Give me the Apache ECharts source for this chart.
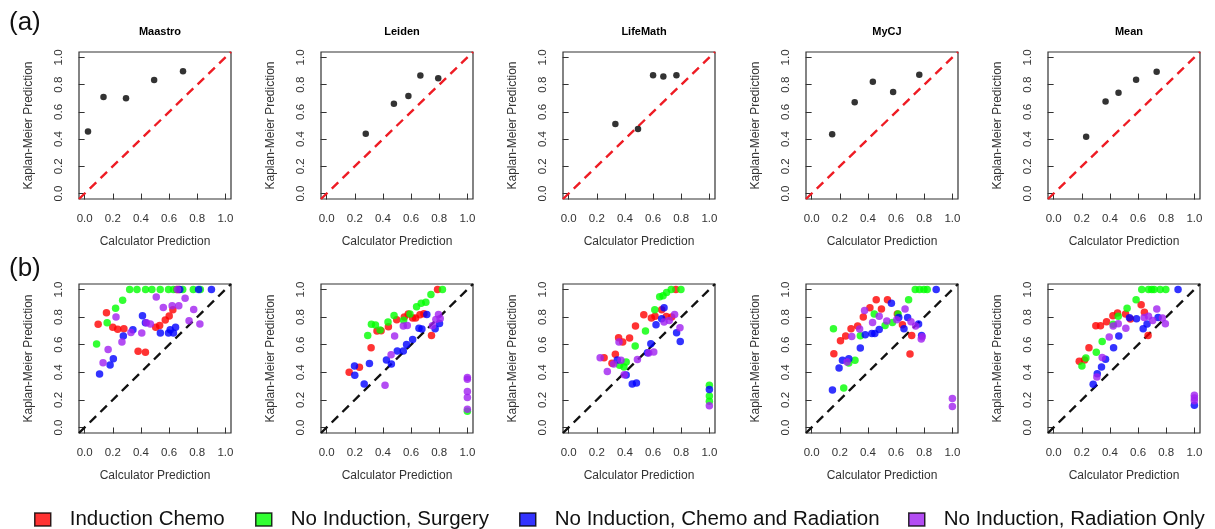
<!DOCTYPE html>
<html>
<head>
<meta charset="utf-8">
<script src="https://cdn.jsdelivr.net/npm/echarts@6/dist/echarts.min.js"></script>
<style>
  html, body { margin: 0; padding: 0; background: #fff; }
  #chart { width: 1215px; height: 529px; }
</style>
</head>
<body>
<div id="chart"></div>
<script>
  // calculators / treatment groups
  const centers = ['Maastro', 'Leiden', 'LifeMath', 'MyCJ', 'Mean']
  const groups = ['Induction Chemo', 'No Induction, Surgery', 'No Induction, Chemo and Radiation', 'No Induction, Radiation Only']
  const groupColors = ['#ff0000', '#00ff00', '#0000ff', '#a020f0']
  const ticks = [0, 0.2, 0.4, 0.6, 0.8, 1.0]
  const diagonal = [-0.04, 1.04]

  // (a) calibration by quintile: [calculator, kaplan-meier]
  const maastroA = [[0.024, 0.456], [0.134, 0.709], [0.294, 0.701], [0.494, 0.835], [0.699, 0.898]]
  const leidenA = [[0.278, 0.439], [0.478, 0.660], [0.581, 0.716], [0.666, 0.867], [0.793, 0.848]]
  const lifemathA = [[0.332, 0.511], [0.493, 0.475], [0.600, 0.870], [0.673, 0.860], [0.766, 0.870]]
  const mycjA = [[0.146, 0.436], [0.306, 0.670], [0.435, 0.822], [0.579, 0.747], [0.765, 0.872]]
  const meanA = [[0.231, 0.417], [0.369, 0.677], [0.461, 0.740], [0.586, 0.836], [0.732, 0.894]]

  // (b) by treatment group
  const maastroChemo = [[0.096, 0.748], [0.155, 0.832], [0.200, 0.726], [0.235, 0.712], [0.279, 0.716], [0.380, 0.553], [0.432, 0.546], [0.505, 0.726], [0.533, 0.740], [0.573, 0.779], [0.601, 0.808], [0.627, 0.853], [0.653, 1.0], [0.668, 1.0]]
  const maastroSurgery = [[0.085, 0.606], [0.160, 0.760], [0.220, 0.865], [0.270, 0.923], [0.320, 1.0], [0.372, 1.0], [0.433, 1.0], [0.478, 1.0], [0.537, 1.0], [0.596, 1.0], [0.631, 1.0], [0.697, 1.0], [0.772, 1.0], [0.822, 1.0]]
  const maastroChemoRad = [[0.106, 0.387], [0.181, 0.452], [0.204, 0.498], [0.275, 0.663], [0.343, 0.709], [0.411, 0.810], [0.432, 0.760], [0.538, 0.685], [0.596, 0.685], [0.608, 0.709], [0.631, 0.685], [0.646, 0.726], [0.676, 1.0], [0.810, 1.0], [0.901, 1.0]]
  const maastroRadOnly = [[0.131, 0.469], [0.167, 0.565], [0.223, 0.800], [0.265, 0.620], [0.329, 0.688], [0.406, 0.685], [0.439, 0.760], [0.467, 0.750], [0.509, 0.945], [0.559, 0.870], [0.622, 0.882], [0.669, 0.882], [0.714, 0.937], [0.742, 0.774], [0.775, 0.856], [0.819, 0.750], [0.660, 1.0]]

  const leidenChemo = [[0.160, 0.400], [0.233, 0.436], [0.316, 0.578], [0.358, 0.699], [0.387, 0.701], [0.439, 0.730], [0.498, 0.781], [0.552, 0.800], [0.580, 0.822], [0.611, 0.793], [0.632, 0.793], [0.663, 0.817], [0.691, 0.824], [0.745, 0.667], [0.788, 1.0]]
  const leidenSurgery = [[0.292, 0.667], [0.318, 0.749], [0.347, 0.742], [0.380, 0.706], [0.436, 0.764], [0.479, 0.812], [0.547, 0.778], [0.592, 0.822], [0.639, 0.875], [0.672, 0.901], [0.705, 0.908], [0.741, 0.964], [0.823, 1.0], [1.0, 0.118]]
  const leidenChemoRad = [[0.200, 0.378], [0.198, 0.446], [0.267, 0.316], [0.304, 0.463], [0.425, 0.489], [0.460, 0.460], [0.502, 0.554], [0.545, 0.554], [0.568, 0.602], [0.611, 0.638], [0.656, 0.720], [0.677, 0.713], [0.712, 0.819], [0.771, 0.715], [0.802, 0.754]]
  const leidenRadOnly = [[0.415, 0.306], [0.458, 0.528], [0.483, 0.663], [0.545, 0.735], [0.573, 0.740], [0.752, 0.737], [0.776, 0.783], [0.795, 0.819], [0.807, 0.790], [1.0, 0.362], [1.0, 0.350], [1.0, 0.260], [1.0, 0.217], [1.0, 0.133]]

  const lifemathChemo = [[0.252, 0.506], [0.308, 0.465], [0.332, 0.530], [0.355, 0.651], [0.384, 0.619], [0.433, 0.648], [0.475, 0.735], [0.534, 0.817], [0.588, 0.793], [0.614, 0.807], [0.661, 0.853], [0.694, 0.805], [0.732, 0.800], [0.762, 1.0]]
  const lifemathSurgery = [[0.362, 0.451], [0.393, 0.439], [0.409, 0.475], [0.473, 0.590], [0.546, 0.699], [0.612, 0.853], [0.647, 0.947], [0.671, 0.954], [0.696, 0.978], [0.729, 1.0], [0.798, 1.0], [1.0, 0.306], [1.0, 0.229], [1.0, 0.190]]
  const lifemathChemoRad = [[0.346, 0.489], [0.409, 0.381], [0.452, 0.316], [0.482, 0.323], [0.560, 0.542], [0.584, 0.607], [0.621, 0.745], [0.661, 0.788], [0.678, 0.867], [0.767, 0.687], [0.793, 0.624], [1.0, 0.275]]
  const lifemathRadOnly = [[0.224, 0.506], [0.275, 0.405], [0.320, 0.460], [0.358, 0.619], [0.372, 0.487], [0.395, 0.383], [0.489, 0.492], [0.569, 0.540], [0.605, 0.547], [0.678, 0.764], [0.715, 0.776], [0.753, 0.819], [0.791, 0.723], [1.0, 0.157]]

  const mycjChemo = [[0.158, 0.535], [0.205, 0.629], [0.242, 0.663], [0.280, 0.716], [0.327, 0.735], [0.367, 0.800], [0.414, 0.867], [0.459, 0.925], [0.496, 0.858], [0.539, 0.925], [0.609, 0.822], [0.645, 0.745], [0.711, 0.667], [0.699, 0.533]]
  const mycjSurgery = [[0.155, 0.716], [0.228, 0.287], [0.264, 0.467], [0.308, 0.487], [0.346, 0.665], [0.445, 0.822], [0.522, 0.740], [0.574, 0.761], [0.614, 0.822], [0.689, 0.925], [0.736, 1.0], [0.767, 1.0], [0.798, 1.0], [0.821, 1.0]]
  const mycjChemoRad = [[0.148, 0.272], [0.195, 0.431], [0.219, 0.487], [0.264, 0.499], [0.346, 0.576], [0.381, 0.672], [0.428, 0.682], [0.449, 0.682], [0.480, 0.711], [0.567, 0.901], [0.619, 0.798], [0.656, 0.716], [0.682, 0.798], [0.760, 0.750], [0.781, 0.667], [0.885, 1.0]]
  const mycjRadOnly = [[0.252, 0.475], [0.285, 0.660], [0.341, 0.713], [0.376, 0.848], [0.433, 0.761], [0.480, 0.807], [0.534, 0.771], [0.605, 0.781], [0.664, 0.858], [0.706, 0.766], [0.739, 0.735], [0.779, 0.641], [0.786, 0.658], [1.0, 0.210], [1.0, 0.152]]

  const meanChemo = [[0.182, 0.480], [0.220, 0.489], [0.251, 0.578], [0.300, 0.737], [0.333, 0.737], [0.376, 0.766], [0.421, 0.810], [0.454, 0.829], [0.511, 0.822], [0.546, 0.786], [0.622, 0.889], [0.645, 0.836], [0.671, 0.667]]
  const meanSurgery = [[0.201, 0.446], [0.229, 0.504], [0.303, 0.545], [0.345, 0.624], [0.423, 0.749], [0.459, 0.807], [0.522, 0.865], [0.586, 0.925], [0.626, 1.0], [0.674, 1.0], [0.697, 1.0], [0.714, 1.0], [0.757, 1.0], [0.797, 1.0]]
  const meanChemoRad = [[0.281, 0.313], [0.310, 0.390], [0.340, 0.438], [0.369, 0.494], [0.426, 0.578], [0.463, 0.663], [0.539, 0.795], [0.589, 0.788], [0.636, 0.716], [0.664, 0.750], [0.742, 0.798], [0.884, 1.0], [1.0, 0.161]]
  const meanRadOnly = [[0.307, 0.366], [0.345, 0.508], [0.395, 0.655], [0.423, 0.735], [0.459, 0.752], [0.513, 0.720], [0.643, 0.798], [0.674, 0.807], [0.704, 0.776], [0.733, 0.858], [0.773, 0.793], [0.794, 0.752], [1.0, 0.234], [1.0, 0.214], [1.0, 0.193]]

  const panelA = [maastroA, leidenA, lifemathA, mycjA, meanA]
  const panelB = [
    [maastroChemo, maastroSurgery, maastroChemoRad, maastroRadOnly],
    [leidenChemo, leidenSurgery, leidenChemoRad, leidenRadOnly],
    [lifemathChemo, lifemathSurgery, lifemathChemoRad, lifemathRadOnly],
    [mycjChemo, mycjSurgery, mycjChemoRad, mycjRadOnly],
    [meanChemo, meanSurgery, meanChemoRad, meanRadOnly]
  ]

  const FONT = '"Liberation Sans", Arial, sans-serif'
  const lefts = [79, 321, 563, 806, 1048]
  const boxW = 152

  const chart = echarts.init(document.getElementById('chart'), null, { renderer: 'canvas' })

  const grids = []
  const xAxes = []
  const yAxes = []
  const series = []
  const titles = []

  function axisBase(isX) {
    return {
      type: 'value',
      min: -0.04,
      max: 1.04,
      splitLine: { show: false },
      axisLine: { show: false },
      axisTick: { show: true, customValues: ticks, length: 6, lineStyle: { color: '#333', width: 1 } },
      axisLabel: {
        customValues: ticks,
        formatter: v => v.toFixed(1),
        color: '#333',
        fontFamily: FONT,
        fontSize: 11.5,
        margin: 14,
        rotate: isX ? 0 : 90
      },
      nameLocation: 'middle',
      nameTextStyle: { color: '#333', fontFamily: FONT, fontSize: 12 }
    }
  }

  function addPanel(row, col) {
    const idx = grids.length
    const top = row === 0 ? 52 : 284
    const height = row === 0 ? 147 : 149
    grids.push({ left: lefts[col], top: top, width: boxW, height: height, show: true, borderColor: '#333', borderWidth: 1.2 })
    xAxes.push(Object.assign(axisBase(true), { gridIndex: idx, name: 'Calculator Prediction', nameGap: 37 }))
    yAxes.push(Object.assign(axisBase(false), { gridIndex: idx, name: 'Kaplan-Meier Prediction', nameGap: 44 }))
    series.push({
      type: 'line',
      xAxisIndex: idx,
      yAxisIndex: idx,
      data: diagonal.map(v => [v, v]),
      symbol: 'none',
      silent: true,
      z: 1,
      lineStyle: { color: row === 0 ? '#ee1c24' : '#111', width: 2.4, type: [9, 6] }
    })
    return idx
  }

  centers.forEach((name, col) => {
    const idx = addPanel(0, col)
    series.push({
      type: 'scatter',
      name: name,
      xAxisIndex: idx,
      yAxisIndex: idx,
      data: panelA[col],
      symbolSize: 6.5,
      itemStyle: { color: '#000' },
      z: 3
    })
    titles.push({
      text: name,
      left: lefts[col] + boxW / 2,
      top: 21,
      textAlign: 'center',
      textStyle: { fontFamily: FONT, fontSize: 11, fontWeight: 'bold', color: '#000' }
    })
  })

  centers.forEach((name, col) => {
    const idx = addPanel(1, col)
    groups.forEach((g, gi) => {
      series.push({
        type: 'scatter',
        name: g,
        xAxisIndex: idx,
        yAxisIndex: idx,
        data: panelB[col][gi],
        symbolSize: 7.5,
        itemStyle: { color: groupColors[gi] },
        z: 3
      })
    })
  })

  const legendLefts = [29, 250, 514, 903]
  const legends = groups.map((g, gi) => ({
    data: [g],
    left: legendLefts[gi],
    top: 504,
    icon: 'rect',
    itemWidth: 16,
    itemHeight: 13,
    selectedMode: false,
    itemStyle: { borderColor: '#000', borderWidth: 1.5 },
    textStyle: { fontFamily: FONT, fontSize: 20.5, color: '#111', padding: [0, 0, 0, 14] }
  }))

  chart.setOption({
    animation: false,
    backgroundColor: '#fff',
    title: titles,
    grid: grids,
    xAxis: xAxes,
    yAxis: yAxes,
    legend: legends,
    series: series,
    graphic: [
      { type: 'text', left: 9, top: 10, style: { text: '(a)', fontFamily: FONT, fontSize: 26, fill: '#111' } },
      { type: 'text', left: 9, top: 256, style: { text: '(b)', fontFamily: FONT, fontSize: 26, fill: '#111' } }
    ]
  })
</script>
</body>
</html>
